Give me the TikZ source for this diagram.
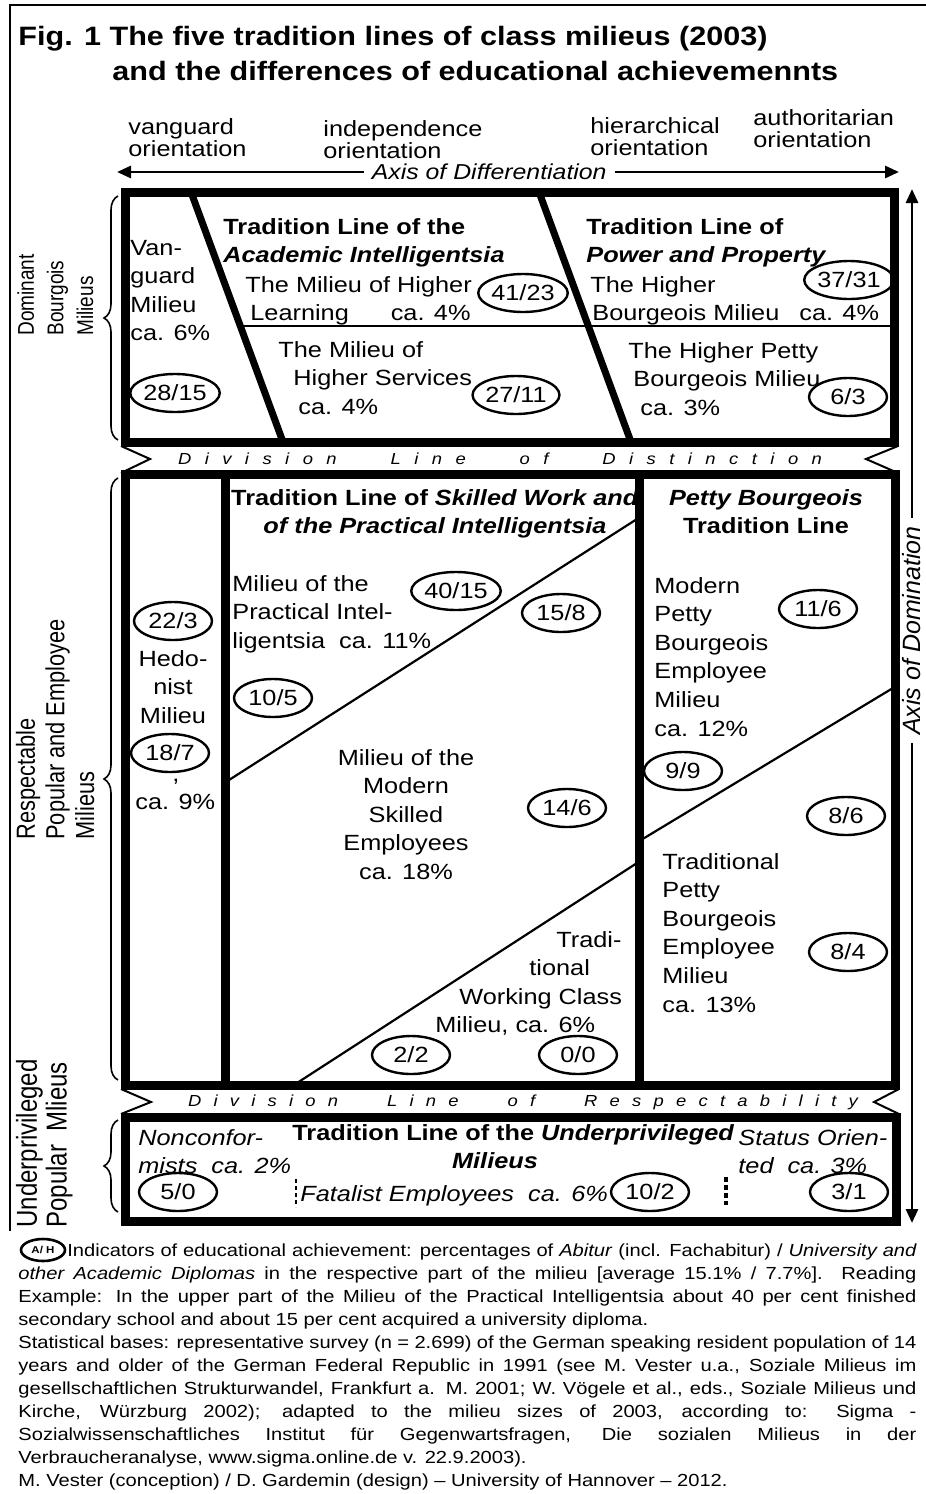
\documentclass[tikz,border=0pt]{standalone}
\usepackage{fontspec}
\setmainfont{Liberation Sans}[FakeStretch=1.15]
\newfontfamily\plainsf{Liberation Sans}
\usetikzlibrary{arrows.meta,shapes.geometric,decorations.pathreplacing}

\begin{document}
\begin{tikzpicture}[
    x=0.5pt, y=-0.5pt,
    every node/.style={inner sep=0pt, font=\fontsize{11}{14.3}\selectfont},
    bigbox/.style={draw, line width=4.5pt},
    wall/.style={line width=4.5pt},
    slant/.style={line width=3.5pt},
    thinline/.style={line width=1.1pt},
    notch/.style={line width=1pt, line join=miter},
    share/.style={ellipse, draw, line width=1.2pt, minimum width=39pt, minimum height=19pt},
    txt/.style={anchor=base west, align=left},
    ctxt/.style={anchor=base, align=center},
    sidelabel/.style={rotate=90, yscale=1.2, anchor=base west, align=left},
    axisline/.style={line width=1.4pt, {Triangle[length=7pt,width=6pt]}-{Triangle[length=7pt,width=6pt]}},
    brc/.style={line width=0.8pt, decorate, decoration={brace, amplitude=7pt}},
  ]
  \useasboundingbox (0,0) rectangle (926,1494);
  \draw[line width=1.3pt] (10,1231) -- (10,5) -- (926,5);

  % title and orientations (multi-line nodes sit on their last baseline)
  \node[txt, font=\fontsize{13.3}{17.5}\selectfont\bfseries] (title) at (18,80)
    {Fig. 1 The five tradition lines of class milieus (2003)\\\hspace*{47pt}and the differences of educational achievemennts};
  \node[txt, font=\fontsize{11}{11.25}\selectfont] (vo) at (128,156.5) {vanguard\\orientation};
  \node[txt, font=\fontsize{11}{11.25}\selectfont] (io) at (323,158.5) {independence\\orientation};
  \node[txt, font=\fontsize{11}{11.25}\selectfont] (ho) at (590,155.5) {hierarchical\\orientation};
  \node[txt, font=\fontsize{11}{11.25}\selectfont] (ao) at (753,147.5) {authoritarian\\orientation};
  \coordinate (dl) at (117,172); \coordinate (dr) at (899,172);
  \draw[axisline] (dl) -- (dr) node[pos=0.476, fill=white, inner xsep=4pt, inner ysep=1pt,
    font=\fontsize{10.8}{12}\selectfont\itshape] (dx) {Axis of Differentiation};

  % dominant milieus
  \draw[bigbox] (125,192) rectangle (894,442);
  \draw[slant] (191,192) -- (283,442);
  \draw[slant] (539,192) -- (631,442);
  \draw[thinline] (240,326) -- (894,326);
  \node[txt] (vg) at (130,340.8) {Van-\\guard\\Milieu\\ca. 6\%};
  \node[txt, font=\fontsize{11}{14.3}\selectfont\bfseries] (ai) at (223,262.6) {Tradition Line of the\\\textit{Academic Intelligentsia}};
  \node[txt] (hl) at (245,320.6) {The Milieu of Higher\\\hspace*{2.5pt}Learning\hspace{21pt}ca. 4\%};
  \node[txt] (hs) at (278,414.2) {The Milieu of\\\hspace*{7.5pt}Higher Services\\\hspace*{10pt}ca. 4\%};
  \node[txt, font=\fontsize{11}{14.3}\selectfont\bfseries] (pp) at (586,262.6) {Tradition Line of\\\textit{Power and Property}};
  \node[txt] (hb) at (590,320.6) {The Higher\\\hspace*{1pt}Bourgeois Milieu\hspace{10pt}ca. 4\%};
  \node[txt] (hp) at (628,415.2) {The Higher Petty\\\hspace*{2.5pt}Bourgeois Milieu\\\hspace*{6pt}ca. 3\%};

  \draw[notch] (121,446) -- (150,459) -- (121,473);
  \draw[notch] (898,446) -- (866,459) -- (898,473);
  \node[font=\fontsize{8}{9}\selectfont\itshape] (dd) at (500,459)
    {\makebox[322pt]{D\hfill i\hfill v\hfill i\hfill s\hfill i\hfill o\hfill n\hfill\hfill\hfill\hfill L\hfill i\hfill n\hfill e\hfill\hfill\hfill\hfill o\hfill f\hfill\hfill\hfill\hfill D\hfill i\hfill s\hfill t\hfill i\hfill n\hfill c\hfill t\hfill i\hfill o\hfill n}};

  % respectable milieus
  \node[ctxt, font=\fontsize{11}{14.3}\selectfont\bfseries] (sw) at (435,533.6) {Tradition Line of \textit{Skilled Work and}\\\textit{of the Practical Intelligentsia}};
  \node[ctxt, font=\fontsize{11}{14.3}\selectfont\bfseries] (pb) at (766,533.6) {\textit{Petty Bourgeois}\\Tradition Line};
  \draw[bigbox] (125,474) rectangle (895,1085);
  \draw[wall] (225,474) -- (225,1085);
  \draw[wall] (639,474) -- (639,1085);
  \draw[thinline] (229,780) -- (637,519);
  \draw[thinline] (297,1083) -- (637,863);
  \draw[thinline] (641,840) -- (893,688);
  \node[ctxt] (hn) at (173,723.2) {Hedo-\\nist\\Milieu};
  \node[anchor=base] (hc) at (176,781) {,};
  \node[txt] (hx) at (135,809) {ca. 9\%};
  \node[txt] (pi) at (232,648.2) {Milieu of the\\Practical Intel-\\ligentsia\hspace{7pt}ca. 11\%};
  \node[ctxt] (me) at (406,879.4) {Milieu of the\\Modern\\Skilled\\Employees\\ca. 18\%};
  \node[txt] (tw) at (435,1032.8) {\hspace*{60.5pt}Tradi-\\\hspace*{47pt}tional\\\hspace*{12pt}Working Class\\Milieu, ca. 6\%};
  \node[txt] (mp) at (654,736) {Modern\\Petty\\Bourgeois\\Employee\\Milieu\\ca. 12\%};
  \node[txt] (tp) at (662,1012) {Traditional\\Petty\\Bourgeois\\Employee\\Milieu\\ca. 13\%};

  \draw[notch] (121,1089) -- (151,1102) -- (121,1114);
  \draw[notch] (899,1089) -- (874,1102) -- (899,1114);
  \node[font=\fontsize{8}{9}\selectfont\itshape] (rr) at (523,1102)
    {\makebox[335pt]{D\hfill i\hfill v\hfill i\hfill s\hfill i\hfill o\hfill n\hfill\hfill\hfill\hfill L\hfill i\hfill n\hfill e\hfill\hfill\hfill\hfill o\hfill f\hfill\hfill\hfill\hfill R\hfill e\hfill s\hfill p\hfill e\hfill c\hfill t\hfill a\hfill b\hfill i\hfill l\hfill i\hfill t\hfill y}};

  % underprivileged milieus
  \draw[bigbox] (125,1117) rectangle (896,1221);
  \node[txt, font=\fontsize{11}{14.3}\selectfont\itshape] (nc) at (138,1173.6) {Nonconfor-\\mists\ \ ca. 2\%};
  \node[txt, font=\fontsize{11}{14.3}\selectfont\bfseries] (ul) at (292,1140) {Tradition Line of the \textit{Underprivileged}};
  \node[anchor=base, font=\fontsize{11}{14.3}\selectfont\bfseries\itshape] (um) at (495,1168) {Milieus};
  \node[txt, font=\fontsize{11}{14.3}\selectfont\itshape] (so) at (738,1173.6) {Status Orien-\\ted\hspace{7pt}ca. 3\%};
  \node[txt, font=\fontsize{11}{14.3}\selectfont\itshape] (fe) at (300,1201) {Fatalist Employees\ \ ca. 6\%};
  \draw[line width=1.2pt, dash pattern=on 2pt off 1.5pt] (296,1179) -- (296,1207);
  \draw[line width=2.2pt, dash pattern=on 2.5pt off 1.5pt] (726,1177) -- (726,1205);

  % educational shares A/H
  \foreach \x/\y/\a/\h [count=\i] in {175/393/28/15, 523/293/41/23, 516/395/27/11, 849/280/37/31,
      848/397/6/3, 173/621/22/3, 170/753/18/7, 456/591/40/15, 561/613/15/8, 273/698/10/5,
      567/808/14/6, 411/1055/2/2, 578/1055/0/0, 818/609/11/6, 683/771/9/9, 846/816/8/6,
      848/952/8/4, 178/1192/5/0, 650/1192/10/2, 849/1192/3/1}
    \node[share] (q\i) at (\x,\y) {\a/\h};

  % braces and side labels
  \draw[brc] (118,440) -- (118,196);
  \draw[brc] (118,1080) -- (118,478);
  \draw[brc] (118,1212) -- (118,1120);
  \node[sidelabel, font=\plainsf\fontsize{9.5}{12.3}\selectfont] (dom) at (93,336) {Dominant\\Bourgois\\Milieus};
  \node[sidelabel, font=\plainsf\fontsize{10.9}{12.3}\selectfont] (res) at (94,840) {Respectable\\Popular and Employee\\Milieus};
  \node[sidelabel, font=\plainsf\fontsize{12}{12.3}\selectfont] (und) at (66.5,1228) {Underprivileged\\Popular\ \ Mlieus};

  \coordinate (db) at (912,1223); \coordinate (dt) at (912,189);
  \draw[axisline] (db) -- (dt) node[pos=0.573, rotate=90, fill=white, inner xsep=4pt, inner ysep=1pt,
    font=\plainsf\fontsize{12.5}{14}\selectfont\itshape] (dy) {Axis of Domination};

  % notes
  \node[ellipse, draw, line width=1.3pt, minimum width=22pt, minimum height=11pt,
    font=\fontsize{5}{6}\selectfont\bfseries] (key) at (43,1250) {A/ H};
  \node[anchor=base west, text width=449pt, align=justify, font=\fontsize{8.75}{11.5}\selectfont] (notes) at (18,1256)
    {\hspace*{24.5pt}Indicators of educational achievement: percentages of \textit{Abitur} (incl. Fachabitur) / \textit{University and\linebreak
    other Academic Diplomas} in the respective part of the milieu [average 15.1\% / 7.7\%]. Reading\linebreak
    Example: In the upper part of the Milieu of the Practical Intelligentsia about 40 per cent finished\linebreak
    secondary school and about 15 per cent acquired a university diploma.\par
    Statistical bases: representative survey (n = 2.699) of the German speaking resident population of 14\linebreak
    years and older of the German Federal Republic in 1991 (see M. Vester u.a., Soziale Milieus im\linebreak
    gesellschaftlichen Strukturwandel, Frankfurt a. M. 2001; W. Vögele et al., eds., Soziale Milieus und\linebreak
    Kirche, Würzburg 2002); adapted to the milieu sizes of 2003, according to: Sigma -\linebreak
    Sozialwissenschaftliches Institut für Gegenwartsfragen, Die sozialen Milieus in der\linebreak
    Verbraucheranalyse, www.sigma.online.de v. 22.9.2003).\par
    M. Vester (conception) / D. Gardemin (design) -- University of Hannover -- 2012.};
\end{tikzpicture}
\end{document}
